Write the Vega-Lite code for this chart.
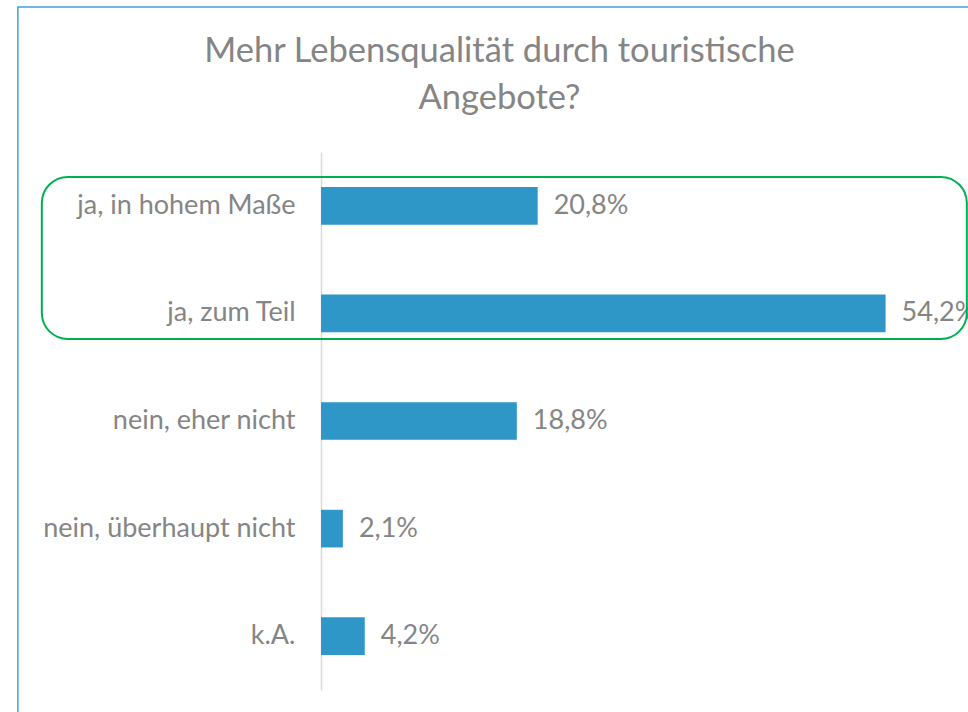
{
  "$schema": "https://vega.github.io/schema/vega-lite/v6.json",
  "width": 625,
  "height": 538,
  "autosize": "none",
  "padding": {"left": 321, "top": 152, "right": 22, "bottom": 22},
  "background": "white",
  "config": {"view": {"stroke": null}, "font": "Lato"},
  "title": {
    "text": ["Mehr Lebensqualität durch touristische", "Angebote?"],
    "fontSize": 34.5,
    "font": "Lato",
    "fontWeight": 400,
    "color": "#858585",
    "anchor": "middle",
    "frame": "group",
    "dx": -134,
    "offset": -110,
    "lineHeight": 47
  },
  "datasets": {
    "bars": [
      {"kategorie": "ja, in hohem Maße", "anteil": 20.8, "label": "20,8%"},
      {"kategorie": "ja, zum Teil", "anteil": 54.2, "label": "54,2%"},
      {"kategorie": "nein, eher nicht", "anteil": 18.8, "label": "18,8%"},
      {"kategorie": "nein, überhaupt nicht", "anteil": 2.1, "label": "2,1%"},
      {"kategorie": "k.A.", "anteil": 4.2, "label": "4,2%"}
    ],
    "frame": [{"x0": -29.1, "x1": 80, "r0": -1.348, "r1": 6}],
    "highlight": [{"x0": -26.8, "x1": 62, "r0": 0.232, "r1": 1.738}]
  },
  "resolve": {"scale": {"y": "independent"}},
  "layer": [
    {
      "data": {"name": "bars"},
      "layer": [
        {
          "mark": {"type": "bar", "color": "#2e97c7"},
          "encoding": {
            "y": {
              "field": "kategorie",
              "type": "nominal",
              "sort": null,
              "scale": {
                "domain": ["ja, in hohem Maße", "ja, zum Teil", "nein, eher nicht", "nein, überhaupt nicht", "k.A."],
                "paddingInner": 0.65,
                "paddingOuter": 0.325
              },
              "axis": {
                "title": null,
                "domainColor": "#d9d9d9",
                "domainWidth": 1.5,
                "ticks": false,
                "labelPadding": 26,
                "labelFontSize": 27,
                "labelColor": "#858585",
                "labelFont": "Lato",
                "labelFontWeight": 400,
                "labelLimit": 400
              }
            },
            "x": {
              "field": "anteil",
              "type": "quantitative",
              "scale": {"domain": [0, 60], "nice": false, "zero": true},
              "axis": null
            }
          }
        },
        {
          "mark": {"type": "text", "align": "left", "baseline": "middle", "dx": 16, "fontSize": 27, "font": "Lato", "fontWeight": 400, "color": "#858585"},
          "encoding": {
            "y": {"field": "kategorie", "type": "nominal", "sort": null},
            "x": {"field": "anteil", "type": "quantitative"},
            "text": {"field": "label"}
          }
        }
      ]
    },
    {
      "layer": [
        {
          "data": {"name": "frame"},
          "mark": {"type": "rect", "fill": "transparent", "stroke": "#3fa2db", "strokeWidth": 1.5},
          "encoding": {
            "x": {"field": "x0", "type": "quantitative"},
            "x2": {"field": "x1"},
            "y": {"field": "r0", "type": "quantitative", "scale": {"domain": [0, 5], "reverse": true, "nice": false, "zero": false}, "axis": null},
            "y2": {"field": "r1"}
          }
        },
        {
          "data": {"name": "highlight"},
          "mark": {"type": "rect", "fill": "transparent", "stroke": "#00b050", "strokeWidth": 2, "cornerRadius": 26},
          "encoding": {
            "x": {"field": "x0", "type": "quantitative"},
            "x2": {"field": "x1"},
            "y": {"field": "r0", "type": "quantitative"},
            "y2": {"field": "r1"}
          }
        }
      ]
    }
  ]
}
